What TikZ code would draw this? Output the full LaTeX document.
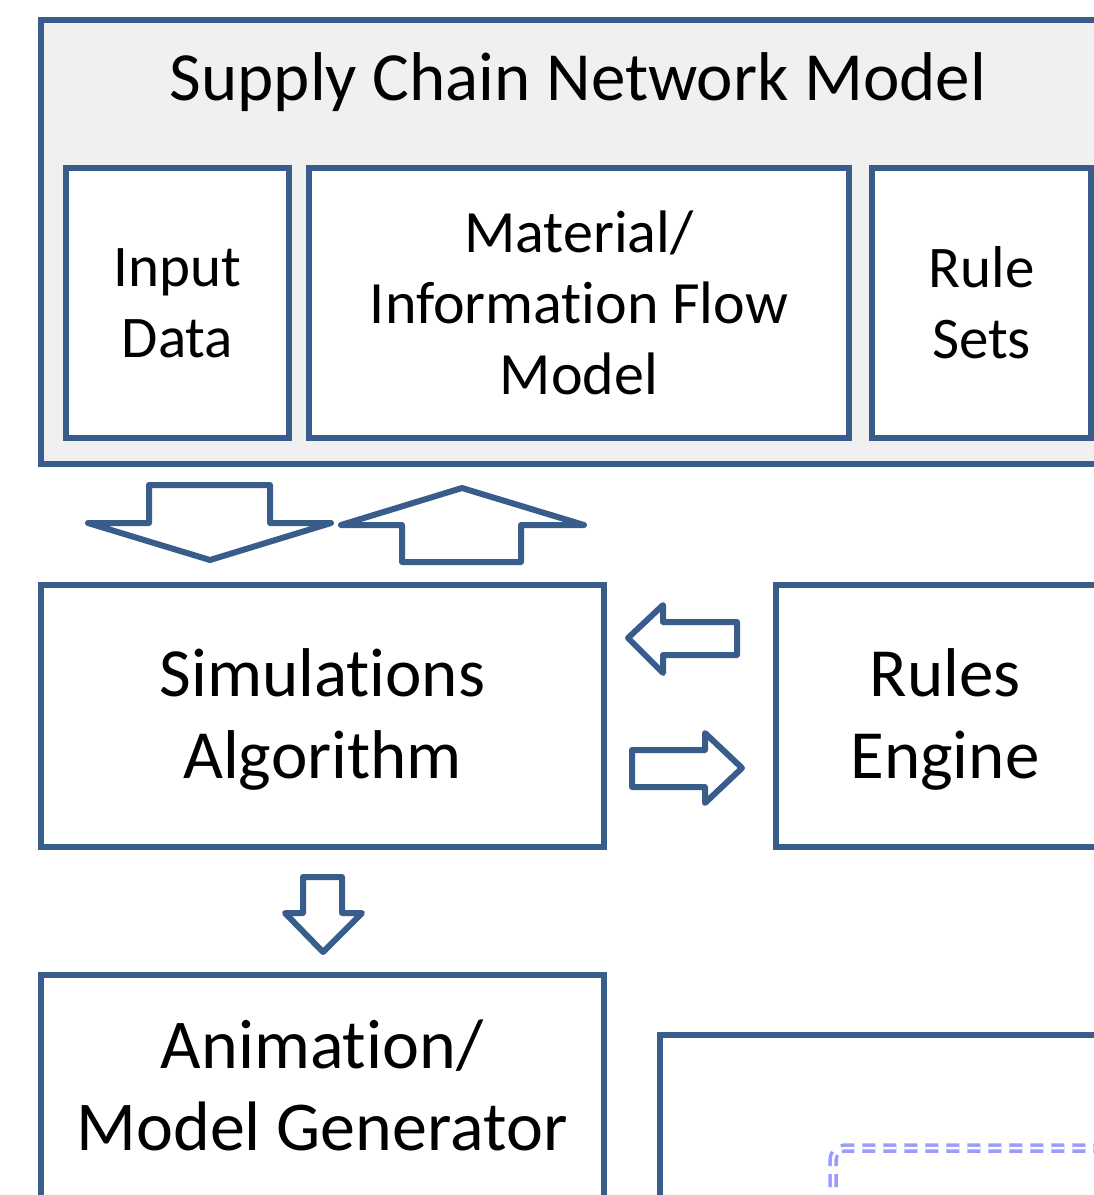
\documentclass[tikz,border=0pt]{standalone}
\usepackage{fontspec}
\setmainfont[Ligatures=NoCommon]{Carlito}
\definecolor{edge}{HTML}{385D8A}
\definecolor{panel}{HTML}{F0F0F0}
\definecolor{dashblue}{HTML}{9A9AFF}
\tikzset{
  box/.style={draw=edge, line width=6pt, fill=white, rectangle, inner sep=0pt, align=center},
  label/.style={align=center, inner sep=0pt},
  blockarrow/.style={draw=edge, line width=6pt, line join=round, fill=white},
}
\begin{document}
\begin{tikzpicture}[x=1pt,y=-1pt]
\useasboundingbox (0,0) rectangle (1094,1195);
\clip (0,0) rectangle (1094,1195);

% outer model panel
\node[box, fill=panel, minimum width=1100pt, minimum height=444pt] (scn) at (591,242) {};
\node[label, font=\fontsize{69}{82}\selectfont] (title) at (578,82) {Supply Chain Network Model};

% components of the network model
\node[box, minimum width=223pt, minimum height=270pt, font=\fontsize{59}{71}\selectfont] (input) at (177.5,303) {Input\\Data};
\node[box, minimum width=540pt, minimum height=270pt, font=\fontsize{60}{71}\selectfont] (flow) at (579,303) {Material/\\Information Flow\\Model};
\node[box, minimum width=219pt, minimum height=270pt, font=\fontsize{59}{71}\selectfont] (rulesets) at (981.5,303) {Rule\\Sets};

% simulation and rules engine
\node[box, minimum width=563pt, minimum height=262pt] (sim) at (322.5,716) {};
\node[label, font=\fontsize{69}{82}\selectfont] at (322.5,719) {Simulations\\Algorithm};
\node[box, minimum width=338pt, minimum height=262pt] (engine) at (945,716) {};
\node[label, font=\fontsize{69}{82}\selectfont] at (945,719) {Rules\\Engine};

% animation / model generator
\node[box, minimum width=563pt, minimum height=280pt] (anim) at (322.5,1115) {};
\node[label, font=\fontsize{70}{82}\selectfont] at (322,1085) {Animation/\\Model Generator};

% lower right panel with dashed region
\node[box, minimum width=480pt, minimum height=260pt] (view) at (900,1165) {};
\draw[dashblue, line width=3.5pt, double=white, double distance=2.5pt,
      dash pattern=on 13pt off 8pt, rounded corners=12pt]
  (833,1250) -- (833,1148) -- (1150,1148);

% block arrows between the network model and the simulation
\draw[blockarrow] (149,485) -- (270,485) -- (270,523) -- (331,523) -- (210,560)
  -- (88,523) -- (149,523) -- cycle;
\draw[blockarrow] (402,562) -- (521,562) -- (521,525) -- (584,525) -- (462,488)
  -- (341,525) -- (402,525) -- cycle;

% block arrows between simulation and rules engine
\draw[blockarrow] (737,622) -- (663,622) -- (663,605) -- (628,638) -- (663,673)
  -- (663,655) -- (737,655) -- cycle;
\draw[blockarrow] (632,750) -- (705,750) -- (705,733) -- (742,768) -- (705,803)
  -- (705,787) -- (632,787) -- cycle;

% block arrow from simulation to animation
\draw[blockarrow] (303,877) -- (342,877) -- (342,913) -- (362,913) -- (323,952)
  -- (285,913) -- (303,913) -- cycle;
\end{tikzpicture}
\end{document}
